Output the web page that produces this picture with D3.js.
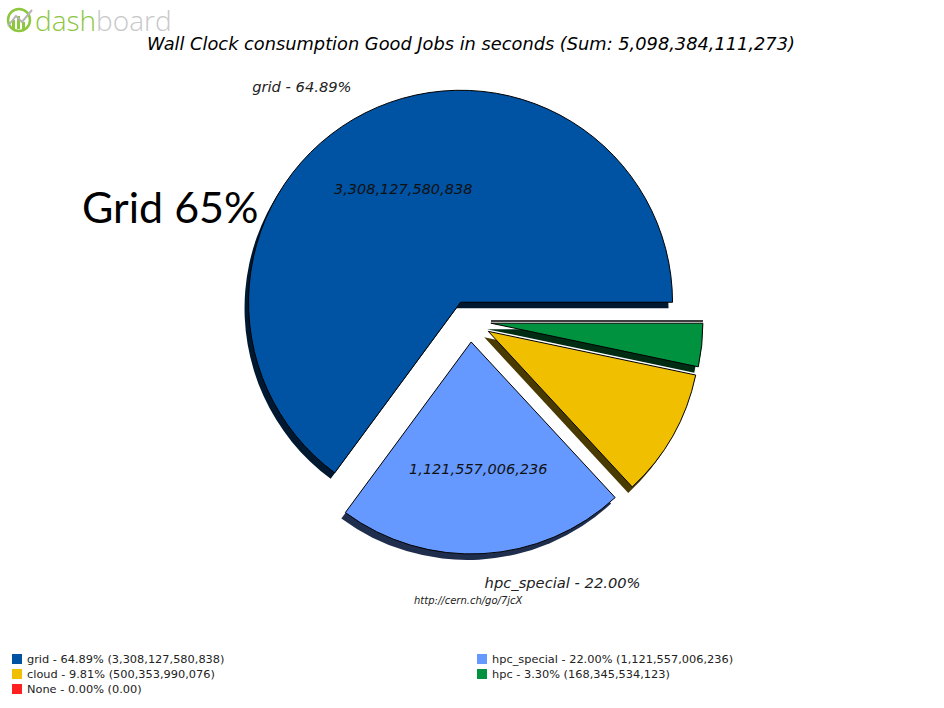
<!DOCTYPE html>
<html>
<head>
<meta charset="utf-8">
<script src="https://cdn.jsdelivr.net/npm/d3@7"></script>
<style>
  body { margin: 0; background: #fff; }
  svg { display: block; }
  text { font-family: "DejaVu Sans", sans-serif; }
</style>
</head>
<body>
<script>
var categories = ["grid", "hpc_special", "cloud", "hpc", "None"];
var values = [3308127580838, 1121557006236, 500353990076, 168345534123, 0];
var colors = ["#0052a2", "#6699ff", "#f0c000", "#00923f", "#ff2020"];
var legendOrder = ["grid", "hpc_special", "cloud", "hpc", "None"];

var WIDTH = 944;
var HEIGHT = 708;
var CX = 470;
var CY = 321;
var RADIUS = 212;
var EXPLODE = 21;

var translate = function (x, y) {
  return "translate(" + x + "," + y + ")";
};

var total = d3.sum(values);
var fmtInt = d3.format(",d");
var pct = function (v) { return (v / total * 100).toFixed(2) + "%"; };
var fmtVal = function (v) { return v === 0 ? "0.00" : fmtInt(v); };

var draw = function () {
  var svg = d3.select("body").append("svg")
    .attr("width", WIDTH)
    .attr("height", HEIGHT);

  // dashboard logo
  var logo = svg.append("g").attr("transform", translate(5, 6));
  logo.append("circle").attr("cx", 14).attr("cy", 14).attr("r", 11)
    .attr("fill", "none").attr("stroke", "#8dc63f").attr("stroke-width", 2.5);
  [[7, 9], [12, 13], [17, 7]].forEach(function (b) {
    logo.append("rect").attr("x", b[0]).attr("y", 14 + 9 - b[1])
      .attr("width", 3).attr("height", b[1]).attr("fill", "#8dc63f");
  });
  logo.append("path").attr("d", "M3,20 L11,10 L17,16 L27,4")
    .attr("fill", "none").attr("stroke", "#b5b5b5").attr("stroke-width", 2);
  var lt = svg.append("text").attr("x", 35).attr("y", 31)
    .style("font-family", "'Open Sans', sans-serif")
    .style("font-size", "28px").style("font-weight", 300);
  lt.append("tspan").attr("fill", "#8dc63f").text("dash");
  lt.append("tspan").attr("fill", "#c8c8c8").text("board");

  // title
  svg.append("text")
    .attr("x", 471).attr("y", 50)
    .attr("text-anchor", "middle")
    .style("font-style", "italic")
    .style("font-size", "17.8px")
    .text("Wall Clock consumption Good Jobs in seconds (Sum: " + fmtInt(total) + ")");

  var pie = d3.pie()
    .sort(null)
    .startAngle(Math.PI / 2)
    .endAngle(Math.PI / 2 - 2 * Math.PI)
    .value(function (d) { return d; });

  var arcs = pie(values);
  var arc = d3.arc().innerRadius(0).outerRadius(RADIUS);

  var offset = function (d) {
    var a = (d.startAngle + d.endAngle) / 2;
    return [CX + Math.sin(a) * EXPLODE, CY - Math.cos(a) * EXPLODE];
  };

  var shade = function (c) {
    var rgb = d3.rgb(c);
    return d3.rgb(rgb.r * 0.3, rgb.g * 0.3, rgb.b * 0.3).toString();
  };

  // shadows first
  svg.append("g").selectAll("path")
    .data(arcs)
    .enter()
    .append("path")
    .attr("d", arc)
    .attr("transform", function (d) { var o = offset(d); return translate(o[0] - 4, o[1] + 6); })
    .attr("fill", function (d, i) { return shade(colors[i]); });

  svg.append("g").selectAll("path")
    .data(arcs)
    .enter()
    .append("path")
    .attr("d", arc)
    .attr("transform", function (d) { var o = offset(d); return translate(o[0], o[1]); })
    .attr("fill", function (d, i) { return colors[i]; })
    .attr("stroke", "#000")
    .attr("stroke-width", 1);

  // outer labels and values for the big slices
  var big = arcs.filter(function (d) { return d.value / total >= 0.1; });

  svg.append("g").selectAll("text")
    .data(big)
    .enter()
    .append("text")
    .attr("x", function (d) {
      var a = (d.startAngle + d.endAngle) / 2;
      return offset(d)[0] + Math.sin(a) * RADIUS * 1.14;
    })
    .attr("y", function (d) {
      var a = (d.startAngle + d.endAngle) / 2;
      return offset(d)[1] - Math.cos(a) * RADIUS * 1.14;
    })
    .attr("dy", "0.35em")
    .attr("text-anchor", function (d) {
      var a = (d.startAngle + d.endAngle) / 2;
      return Math.sin(a) < 0 ? "end" : "start";
    })
    .style("font-style", "italic")
    .style("font-size", "14.7px")
    .attr("fill", "#222")
    .text(function (d) { return categories[d.index] + " - " + pct(d.value); });

  svg.append("g").selectAll("text")
    .data(big)
    .enter()
    .append("text")
    .attr("x", function (d) {
      var a = (d.startAngle + d.endAngle) / 2;
      return offset(d)[0] + Math.sin(a) * RADIUS * 0.6;
    })
    .attr("y", function (d) {
      var a = (d.startAngle + d.endAngle) / 2;
      return offset(d)[1] - Math.cos(a) * RADIUS * 0.6;
    })
    .attr("dy", "0.35em")
    .attr("text-anchor", "middle")
    .style("font-style", "italic")
    .style("font-size", "14.5px")
    .attr("fill", "#111")
    .text(function (d) { return fmtInt(d.value); });

  svg.append("text")
    .attr("x", 414).attr("y", 604)
    .style("font-style", "italic")
    .style("font-size", "10px")
    .attr("fill", "#222")
    .text("http://cern.ch/go/7jcX");

  // legend, two columns row-major
  var legend = svg.append("g");
  var items = legend.selectAll("g")
    .data(legendOrder)
    .enter()
    .append("g")
    .attr("transform", function (d, i) {
      return translate(i % 2 === 0 ? 12 : 477, 654 + Math.floor(i / 2) * 15);
    });
  items.append("rect")
    .attr("width", 10).attr("height", 10)
    .attr("fill", function (d) { return colors[categories.indexOf(d)]; });
  items.append("text")
    .attr("x", 15).attr("y", 5)
    .attr("dy", "0.35em")
    .style("font-size", "11.35px")
    .attr("fill", "#222")
    .text(function (d) {
      var v = values[categories.indexOf(d)];
      return d + " - " + pct(v) + " (" + fmtVal(v) + ")";
    });

  // slide annotation
  svg.append("text")
    .attr("x", 82).attr("y", 223)
    .style("font-family", "Lato, 'Open Sans', sans-serif")
    .style("font-size", "43px")
    .attr("fill", "#000")
    .text("Grid 65%");
};

window.onload = draw;
</script>
</body>
</html>
